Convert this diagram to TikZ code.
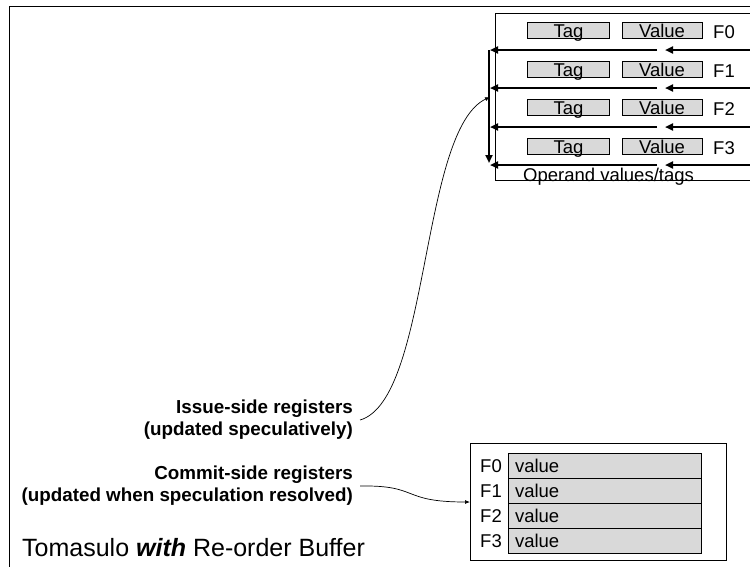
\documentclass[tikz,border=0pt]{standalone}
\usepackage{fontspec}
\setmainfont{Liberation Sans}
\usetikzlibrary{arrows.meta,positioning,calc}

\definecolor{boxgray}{RGB}{217,217,217}

\begin{document}
\begin{tikzpicture}[
    x=1pt, y=-1pt,
    cell/.style={rectangle, draw=black, fill=boxgray, line width=0.8pt, minimum height=16pt, inner sep=0pt, text height=15pt, text depth=0pt, font=\fontsize{18.5}{20}\selectfont},
    valrow/.style={rectangle, draw=black, fill=boxgray, line width=0.8pt, minimum height=25pt, inner xsep=7pt, inner ysep=0pt, text width=179pt, align=left, font=\fontsize{18.5}{20}\selectfont},
    reglabel/.style={inner sep=0pt, font=\fontsize{18.5}{20}\selectfont},
    sidelabel/.style={inner sep=0pt, align=right, font=\fontsize{18.8}{22}\selectfont\bfseries},
    bus/.style={line width=2pt, -{Triangle[length=8pt,width=7pt]}},
    pointer/.style={line width=0.7pt, -{Latex[length=5pt,width=4pt]}}
]
\useasboundingbox (0,0) rectangle (750,566);

% Slide frame
\draw[line width=0.9pt] (9,567) -- (9,6) -- (752,6);

% Issue-side register file
\draw[line width=0.8pt] (495,13) rectangle (752,180);
\foreach \i/\y in {0/30,1/69,2/107,3/146} {
  \node[cell, minimum width=82pt] (tag\i) at (568.5,\y) {Tag};
  \node[cell, minimum width=80pt] (val\i) at (662,\y) {Value};
  \node[reglabel, anchor=base] (fi\i) at (724,\y+8) {F\i};
}
\node[reglabel, anchor=base west] (optxt) at (523,181) {Operand values/tags};

% Buses
\foreach \i/\y in {0/50,1/88,2/127,3/165} {
  \coordinate (bl\i) at (490,\y);
  \coordinate (bm\i) at (657,\y);
  \coordinate (bn\i) at (665,\y);
  \coordinate (br\i) at (752,\y);
  \draw[bus] (bm\i) -- (bl\i);
  \draw[bus] (br\i) -- (bn\i);
}
\coordinate (vtop) at (489,50);
\coordinate (vbot) at (489,163);
\draw[bus] (vtop) -- (vbot);
\coordinate (busmid) at (490,97);

% Commit-side register file
\draw[line width=0.8pt] (470,443) rectangle (726,560);
\foreach \i in {0,...,3} {
  \node[valrow] (row\i) at (604.5,466+25*\i) {value};
  \node[reglabel] (fc\i) at (491,466+25*\i) {F\i};
}
\coordinate (regin) at (470,502);

% Labels
\node[sidelabel, anchor=east] (issue) at (353,420) {Issue-side registers\\(updated speculatively)};
\node[sidelabel, anchor=east] (commit) at (353,486) {Commit-side registers\\(updated when speculation resolved)};
\node[inner sep=0pt, anchor=base west, font=\fontsize{25}{28}\selectfont] (title) at (22,556) {Tomasulo \textbf{\textit{with}} Re-order Buffer};

% Pointers
\draw[pointer] ($(issue.east)+(7,0)$) .. controls (430,400) and (420,130) .. (busmid);
\draw[pointer] ($(commit.east)+(7,0)$) .. controls (420,485) and (400,502) .. (regin);

\end{tikzpicture}
\end{document}
